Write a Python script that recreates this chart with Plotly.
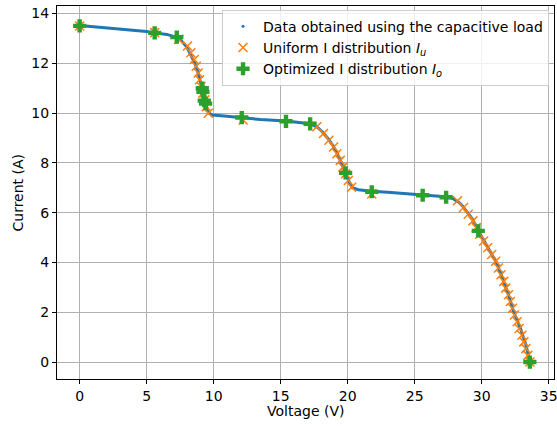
import plotly.graph_objects as go

meas_v = [0.0, 1.0, 2.0, 3.0, 4.0, 5.0, 5.6, 6.5, 7.2, 7.6, 8.0, 8.3, 8.6, 8.85, 9.05, 9.2,
          9.35, 9.5, 9.65, 9.9, 11.0, 12.1, 13.5, 15.4, 16.5, 17.2, 17.7, 18.1, 18.5, 18.9,
          19.2, 19.5, 19.85, 20.1, 20.35, 20.8, 21.8, 23.0, 24.5, 25.6, 26.5, 27.3, 27.8,
          28.3, 28.6, 28.9, 29.3, 29.75, 30.3, 30.8, 31.1, 31.5, 32.0, 32.4, 32.9, 33.3, 33.6]
meas_i = [13.52, 13.47, 13.42, 13.38, 13.34, 13.28, 13.22, 13.16, 13.05, 12.9, 12.65, 12.35,
          12.0, 11.6, 11.15, 10.8, 10.5, 10.2, 10.0, 9.92, 9.87, 9.8, 9.74, 9.68, 9.63, 9.57,
          9.45, 9.25, 9.0, 8.7, 8.4, 8.05, 7.6, 7.25, 7.0, 6.92, 6.86, 6.82, 6.76, 6.72, 6.68,
          6.64, 6.58, 6.42, 6.25, 6.05, 5.75, 5.27, 4.75, 4.3, 4.0, 3.45, 2.7, 2.0, 1.35, 0.7, 0.0]

# uniform I distribution
uni_v = [0.0, 5.6, 7.4, 8.05, 8.3, 8.55, 8.7, 8.85, 8.95, 9.05, 9.2, 9.35, 9.45, 9.6, 12.2,
         17.7, 18.2, 18.6, 18.95, 19.2, 19.45, 19.65, 19.85, 20.05, 20.3, 21.8, 28.2, 28.65,
         29.0, 29.35, 29.6, 29.85, 30.15, 30.45, 30.75, 31.05, 31.25, 31.45, 31.65, 31.8,
         32.0, 32.15, 32.3, 32.45, 32.65, 32.8, 33.0, 33.15, 33.3, 33.45, 33.6]
uni_i = [13.5, 13.23, 12.96, 12.69, 12.42, 12.15, 11.88, 11.61, 11.34, 11.07, 10.8, 10.53,
         10.26, 9.99, 9.72, 9.45, 9.18, 8.91, 8.64, 8.37, 8.1, 7.83, 7.56, 7.29, 7.02, 6.75,
         6.48, 6.21, 5.94, 5.67, 5.4, 5.13, 4.86, 4.59, 4.32, 4.05, 3.78, 3.51, 3.24, 2.97,
         2.7, 2.43, 2.16, 1.89, 1.62, 1.35, 1.08, 0.81, 0.54, 0.27, 0.0]

# optimized I distribution
opt_v = [0.0, 5.6, 7.25, 9.15, 9.2, 9.3, 9.4, 12.1, 15.4, 17.2, 19.85, 21.8, 25.6, 27.35, 29.75, 33.6]
opt_i = [13.5, 13.22, 13.05, 11.0, 10.85, 10.5, 10.38, 9.82, 9.67, 9.57, 7.6, 6.84, 6.7, 6.62, 5.27, 0.0]

font = "DejaVu Sans, Verdana, sans-serif"

fig = go.Figure()
fig.add_trace(go.Scatter(x=meas_v, y=meas_i, mode="lines", line=dict(color="#1f77b4", width=3),
                         showlegend=False, hoverinfo="skip"))
fig.add_trace(go.Scatter(x=[None], y=[None], mode="markers", marker=dict(color="#1f77b4", size=3),
                         name="Data obtained using the capacitive load"))
fig.add_trace(go.Scatter(x=uni_v, y=uni_i, mode="markers",
                         marker=dict(symbol="x-thin", size=9, line=dict(color="#ff7f0e", width=1.5)),
                         name="Uniform I distribution <i>I<sub>u</sub></i>"))
fig.add_trace(go.Scatter(x=opt_v, y=opt_i, mode="markers",
                         marker=dict(symbol="cross", size=11, color="#2ca02c"),
                         name="Optimized I distribution <i>I<sub>o</sub></i>"))

axis = dict(showgrid=True, gridcolor="#b0b0b0", gridwidth=0.8, zeroline=False,
            showline=True, linecolor="black", linewidth=1, mirror=True,
            ticks="outside", ticklen=4, tickcolor="black", automargin=False,
            ticklabeloverflow="allow",
            tickfont=dict(size=14, color="black", family=font))

fig.update_layout(
    width=557, height=426,
    margin=dict(l=57, r=3, t=6, b=47),
    plot_bgcolor="white", paper_bgcolor="white",
    font=dict(family=font, size=14, color="black"),
    xaxis=dict(axis, range=[-1.69, 35.4], tickvals=[0, 5, 10, 15, 20, 25, 30, 35]),
    yaxis=dict(axis, range=[-0.68, 14.3], tickvals=[0, 2, 4, 6, 8, 10, 12, 14]),
    legend=dict(x=0.99, y=0.99, xanchor="right", yanchor="top",
                bgcolor="rgba(255,255,255,0.8)", bordercolor="#cccccc", borderwidth=1,
                font=dict(size=14, family=font), itemwidth=30, tracegroupgap=0),
    annotations=[
        dict(text="Voltage (V)", x=0.5, y=0, xref="paper", yref="paper", yshift=-22,
             xanchor="center", yanchor="top", showarrow=False, font=dict(size=14)),
        dict(text="Current (A)", x=0, y=0.5, xref="paper", yref="paper", xshift=-30,
             xanchor="right", yanchor="middle", textangle=-90, showarrow=False,
             font=dict(size=14)),
    ],
)

# the page's default body margin would push the plot 8px off
fig.write_html("out.html", config={"displayModeBar": False},
               post_script="document.body.style.margin='0px';")
